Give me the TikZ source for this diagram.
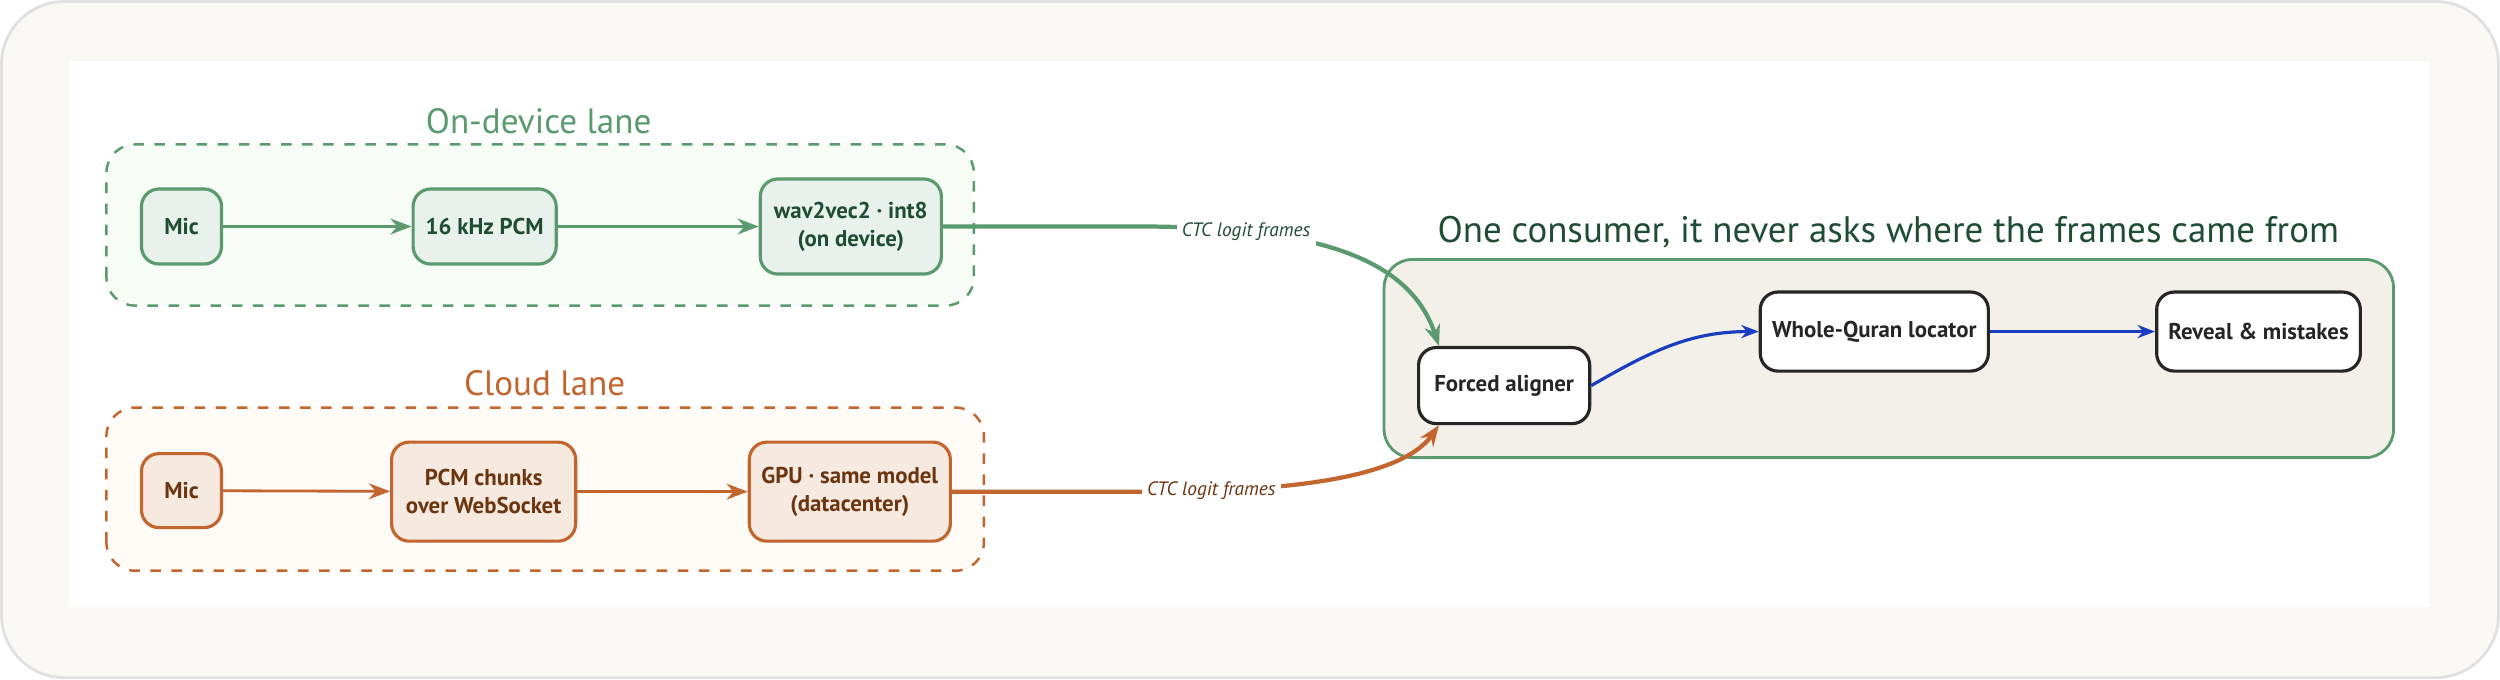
\documentclass[tikz,border=0pt]{standalone}
\usepackage{fontspec}
\setmainfont{PT Sans}
\usetikzlibrary{positioning,arrows.meta,calc}
\definecolor{gline}{HTML}{5A9A6E}
\definecolor{gtext}{HTML}{1F4D33}
\definecolor{gfill}{HTML}{E8F1EB}
\definecolor{oline}{HTML}{C2652F}
\definecolor{otext}{HTML}{6B3510}
\definecolor{ofill}{HTML}{F5E9E0}
\definecolor{bline}{HTML}{1A3DBF}
\definecolor{page}{HTML}{F9F8F4}
\definecolor{cfill}{HTML}{F3EFE9}
\tikzset{
	box/.style={draw, rounded corners=5pt, line width=0.9pt, align=center, font=\bfseries\fontsize{6.5}{8}\selectfont},
	gbox/.style={box, draw=gline, fill=gfill, text=gtext},
	obox/.style={box, draw=oline, fill=ofill, text=otext},
	kbox/.style={box, draw=black!85, fill=white, text=black!85},
	lane/.style={draw, dashed, rounded corners=8pt, line width=0.7pt},
	ctclab/.style={fill=white, inner sep=1.5pt, font=\itshape\fontsize{5.5}{6}\selectfont},
	garr/.style={draw=gline, line width=1.2pt, -{Stealth[length=6pt]}},
	oarr/.style={draw=oline, line width=1.2pt, -{Stealth[length=6pt]}},
	barr/.style={draw=bline, line width=0.9pt, -{Stealth[length=5pt]}}
}
\begin{document}
\begin{tikzpicture}
	%page background and white sheet
	\draw[draw=black!12, fill=page, rounded corners=18pt, line width=0.8pt] (0.02,0.02) rectangle (24.98,6.78);
	\fill[white] (0.70,0.73) rectangle (24.28,6.18);
	
	%on-device lane
	\draw[lane, draw=gline, fill=green!60!black!3] (1.07,3.74) rectangle (9.74,5.35);
	\node[text=gline, font=\fontsize{10}{12}\selectfont] (tdev) at (5.39,5.58) {On-device lane};
	\node[gbox, minimum width=0.80cm, minimum height=0.75cm] (mic1) at (1.82,4.53) {Mic};
	\node[gbox, minimum width=1.43cm, minimum height=0.75cm] (pcm1) at (4.85,4.53) {16 kHz PCM};
	\node[gbox, minimum width=1.81cm, minimum height=0.95cm] (wav) at (8.51,4.53) {wav2vec2 · int8\\(on device)};
	\draw[garr, line width=0.8pt] (mic1) -- (pcm1);
	\draw[garr, line width=0.8pt] (pcm1) -- (wav);
	
	%cloud lane
	\draw[lane, draw=oline, fill=orange!3] (1.07,1.09) rectangle (9.84,2.72);
	\node[text=oline, font=\fontsize{10}{12}\selectfont] (tcld) at (5.45,2.96) {Cloud lane};
	\node[obox, minimum width=0.80cm, minimum height=0.74cm] (mic2) at (1.82,1.89) {Mic};
	\node[obox, minimum width=1.84cm, minimum height=0.99cm] (chunks) at (4.84,1.88) {PCM chunks\\over WebSocket};
	\node[obox, minimum width=2.01cm, minimum height=0.99cm] (gpu) at (8.50,1.88) {GPU · same model\\(datacenter)};
	\draw[oarr, line width=0.8pt] (mic2) -- (chunks);
	\draw[oarr, line width=0.8pt] (chunks) -- (gpu);
	
	%consumer
	\node[text=gtext, font=\fontsize{10.5}{12}\selectfont] (tcon) at (18.88,4.47) {One consumer, it never asks where the frames came from};
	\draw[draw=gline, fill=cfill, rounded corners=8pt, line width=0.8pt] (13.84,2.22) rectangle (23.93,4.20);
	\node[kbox, minimum width=1.71cm, minimum height=0.76cm] (fa) at (15.04,2.94) {Forced aligner};
	\node[kbox, minimum width=2.22cm, minimum height=0.79cm] (wq) at (18.74,3.48) {Whole-Quran locator};
	\node[kbox, minimum width=1.98cm, minimum height=0.79cm] (rv) at (22.58,3.48) {Reveal \& mistakes};
	\draw[barr] (fa.east) to[out=30,in=180] (wq.west);
	\draw[barr] (wq) -- (rv);
	
	%frames into the aligner
	\draw[garr] (wav.east) -- (11.4,4.53) .. controls (13.2,4.53) and (14.1,4.2) .. ($(fa.north west)+(0.22,0)$)
		node[ctclab, text=gtext, pos=0.22] (ctc1) {CTC logit frames};
	\draw[oarr] (gpu.east) -- (11.5,1.88) .. controls (12.8,1.88) and (14.0,2.0) .. ($(fa.south west)+(0.22,0)$)
		node[ctclab, text=otext, pos=0.16] (ctc2) {CTC logit frames};
\end{tikzpicture}
\end{document}
